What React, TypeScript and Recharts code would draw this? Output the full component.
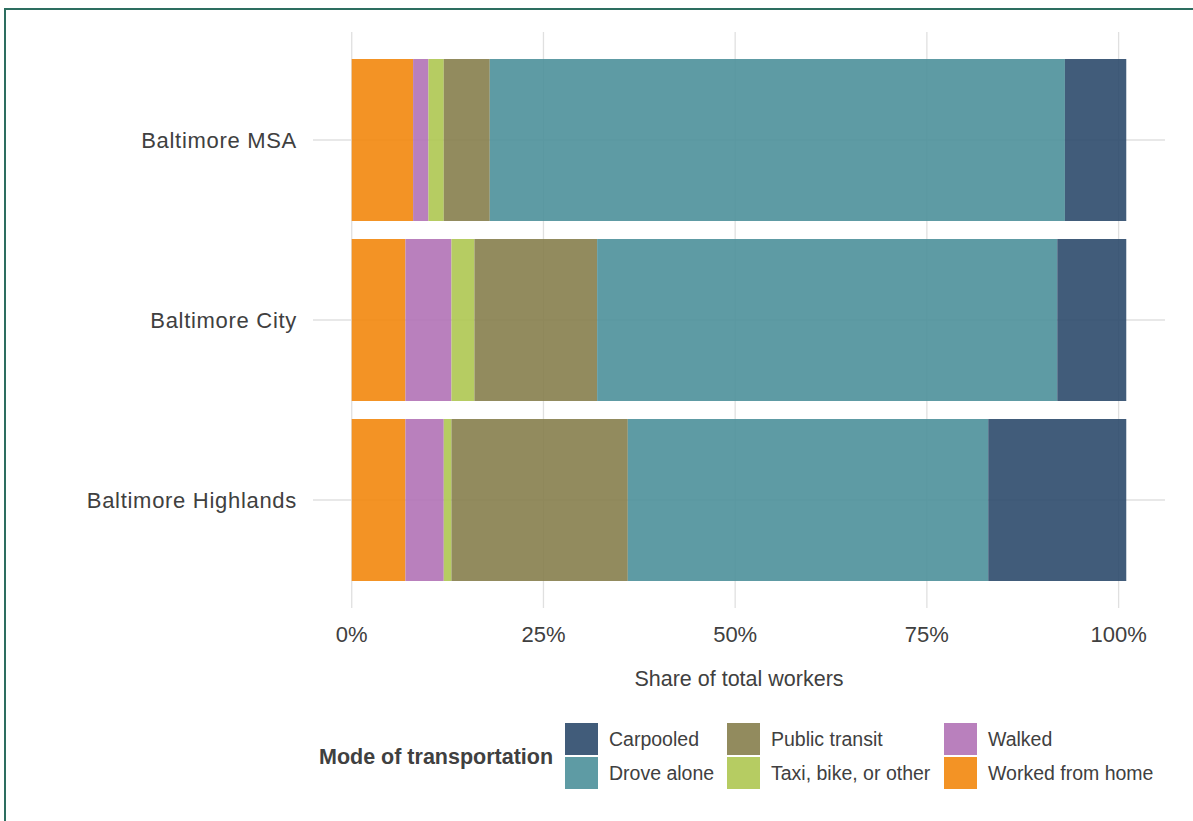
import { BarChart, Bar, XAxis, YAxis, CartesianGrid } from "recharts";

const areas = ["Baltimore MSA", "Baltimore City", "Baltimore Highlands"];

const workedFromHome = [8, 7, 7];
const walked = [2, 6, 5];
const taxiBikeOther = [2, 3, 1];
const publicTransit = [6, 16, 23];
const droveAlone = [75, 60, 47];
const carpooled = [8, 9, 18];

const xTicks = [0, 25, 50, 75, 100];

// stacking order, left to right
const modes = [
  { key: "wfh", name: "Worked from home", values: workedFromHome, color: "#f2870d" },
  { key: "walked", name: "Walked", values: walked, color: "#b172b6" },
  { key: "taxi", name: "Taxi, bike, or other", values: taxiBikeOther, color: "#aec751" },
  { key: "transit", name: "Public transit", values: publicTransit, color: "#867e4c" },
  { key: "drove", name: "Drove alone", values: droveAlone, color: "#4c909a" },
  { key: "carpool", name: "Carpooled", values: carpooled, color: "#2c4a6b" },
];

// legend is laid out column-wise in this order
const legendOrder = ["carpool", "drove", "transit", "taxi", "walked", "wfh"];

const data = areas.map((area, i) => {
  const row: Record<string, string | number> = { area };
  modes.forEach(m => (row[m.key] = m.values[i]));
  return row;
});

const FONT = "'Liberation Sans', Arial, sans-serif";
const TEXT = "#404040";

function AreaTick({ x, y, payload }: any) {
  return (
    <text x={x} y={y} dy="0.355em" textAnchor="end" fontSize={22} letterSpacing={0.7} fill={TEXT} fontFamily={FONT}>
      {payload.value}
    </text>
  );
}

export default function App() {
  const legendCols = [565, 727, 944];
  const legendRows = [723, 757];
  return (
    <div style={{ position: "absolute", left: 0, top: 0, width: 1193, height: 821, background: "#fff", fontFamily: FONT }}>
      <div style={{ position: "absolute", left: 4, top: 8, width: 1200, height: 830, borderLeft: "2px solid #2d6e60", borderTop: "2px solid #2d6e60" }} />
      <BarChart
        width={1193}
        height={708}
        data={data}
        layout="vertical"
        barCategoryGap="5%"
        margin={{ top: 32, right: 28, left: 0, bottom: 0 }}
        style={{ position: "absolute", left: 0, top: 0 }}
      >
        <CartesianGrid stroke="#e0e0e0" strokeWidth={1.3} syncWithTicks />
        <XAxis
          type="number"
          domain={[-5.05, 106.05]}
          ticks={xTicks}
          allowDataOverflow
          tickFormatter={v => `${v}%`}
          axisLine={false}
          tickLine={false}
          tickSize={0}
          tickMargin={18}
          height={100}
          tick={{ fontSize: 22, fill: TEXT, fontFamily: FONT }}
          label={{ value: "Share of total workers", position: "insideBottom", offset: 22, fontSize: 21.5, fill: TEXT, fontFamily: FONT }}
        />
        <YAxis
          type="category"
          dataKey="area"
          width={313}
          axisLine={false}
          tickLine={false}
          tickSize={0}
          tickMargin={16}
          padding={{ top: 18, bottom: 18 }}
          tick={<AreaTick />}
        />
        {modes.map(m => (
          <Bar key={m.key} dataKey={m.key} name={m.name} stackId="a" fill={m.color} fillOpacity={0.9} isAnimationActive={false} />
        ))}
      </BarChart>

      <div style={{ position: "absolute", left: 319, top: 757, transform: "translateY(-50%)", fontSize: 21.5, fontWeight: "bold", color: TEXT, whiteSpace: "nowrap" }}>
        Mode of transportation
      </div>
      {legendOrder.map((k, i) => {
        const m = modes.find(mm => mm.key === k)!;
        const col = Math.floor(i / 2);
        const row = i % 2;
        return (
          <div key={k} style={{ position: "absolute", left: legendCols[col], top: legendRows[row], height: 32, display: "flex", alignItems: "center" }}>
            <div style={{ width: 33, height: 32, background: m.color, opacity: 0.9 }} />
            <span style={{ marginLeft: 11, fontSize: 19.5, color: TEXT, whiteSpace: "nowrap" }}>{m.name}</span>
          </div>
        );
      })}
    </div>
  );
}
